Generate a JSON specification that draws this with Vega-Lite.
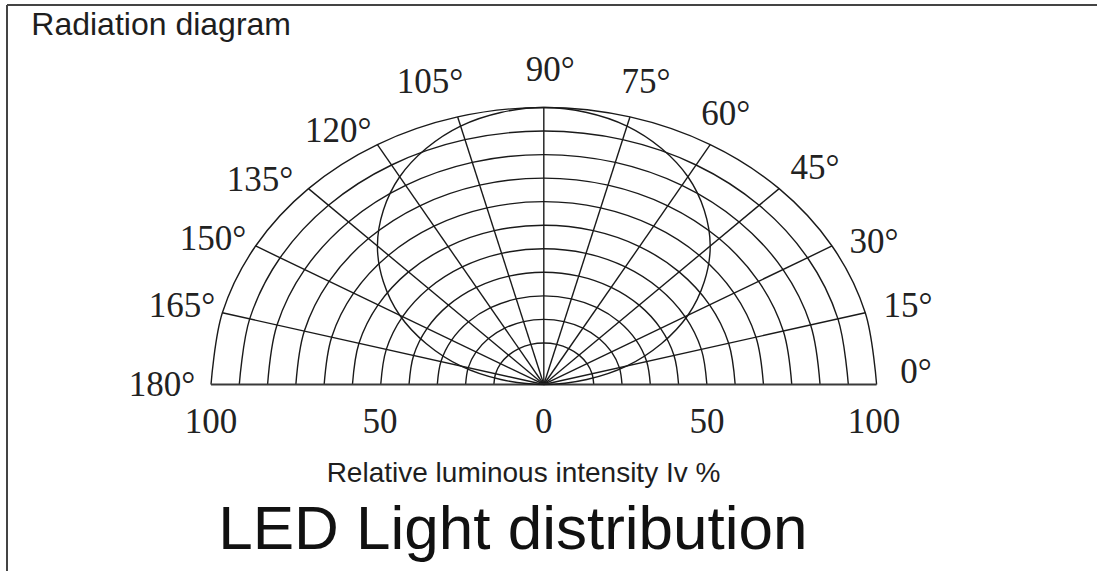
{
  "$schema": "https://vega.github.io/schema/vega-lite/v6.json",
  "width": 1090,
  "height": 566,
  "autosize": {"type": "none"},
  "padding": {"left": 7, "top": 5, "right": 0, "bottom": 0},
  "background": "white",
  "view": {"stroke": null},
  "config": {"view": {"stroke": null}},
  "datasets": {
    "rings": [
      {"r":100,"i":0,"x":100,"y":0},{"r":100,"i":1,"x":96.59,"y":25.88},{"r":100,"i":2,"x":86.6,"y":50},{"r":100,"i":3,"x":70.71,"y":70.71},{"r":100,"i":4,"x":50,"y":86.6},{"r":100,"i":5,"x":25.88,"y":96.59},{"r":100,"i":6,"x":0,"y":100},{"r":100,"i":7,"x":-25.88,"y":96.59},{"r":100,"i":8,"x":-50,"y":86.6},{"r":100,"i":9,"x":-70.71,"y":70.71},{"r":100,"i":10,"x":-86.6,"y":50},{"r":100,"i":11,"x":-96.59,"y":25.88},{"r":100,"i":12,"x":-100,"y":0},
      {"r":91.5,"i":0,"x":91.5,"y":0},{"r":91.5,"i":1,"x":88.38,"y":23.68},{"r":91.5,"i":2,"x":79.24,"y":45.75},{"r":91.5,"i":3,"x":64.7,"y":64.7},{"r":91.5,"i":4,"x":45.75,"y":79.24},{"r":91.5,"i":5,"x":23.68,"y":88.38},{"r":91.5,"i":6,"x":0,"y":91.5},{"r":91.5,"i":7,"x":-23.68,"y":88.38},{"r":91.5,"i":8,"x":-45.75,"y":79.24},{"r":91.5,"i":9,"x":-64.7,"y":64.7},{"r":91.5,"i":10,"x":-79.24,"y":45.75},{"r":91.5,"i":11,"x":-88.38,"y":23.68},{"r":91.5,"i":12,"x":-91.5,"y":0},
      {"r":83,"i":0,"x":83,"y":0},{"r":83,"i":1,"x":80.17,"y":21.48},{"r":83,"i":2,"x":71.88,"y":41.5},{"r":83,"i":3,"x":58.69,"y":58.69},{"r":83,"i":4,"x":41.5,"y":71.88},{"r":83,"i":5,"x":21.48,"y":80.17},{"r":83,"i":6,"x":0,"y":83},{"r":83,"i":7,"x":-21.48,"y":80.17},{"r":83,"i":8,"x":-41.5,"y":71.88},{"r":83,"i":9,"x":-58.69,"y":58.69},{"r":83,"i":10,"x":-71.88,"y":41.5},{"r":83,"i":11,"x":-80.17,"y":21.48},{"r":83,"i":12,"x":-83,"y":0},
      {"r":74.5,"i":0,"x":74.5,"y":0},{"r":74.5,"i":1,"x":71.96,"y":19.28},{"r":74.5,"i":2,"x":64.52,"y":37.25},{"r":74.5,"i":3,"x":52.68,"y":52.68},{"r":74.5,"i":4,"x":37.25,"y":64.52},{"r":74.5,"i":5,"x":19.28,"y":71.96},{"r":74.5,"i":6,"x":0,"y":74.5},{"r":74.5,"i":7,"x":-19.28,"y":71.96},{"r":74.5,"i":8,"x":-37.25,"y":64.52},{"r":74.5,"i":9,"x":-52.68,"y":52.68},{"r":74.5,"i":10,"x":-64.52,"y":37.25},{"r":74.5,"i":11,"x":-71.96,"y":19.28},{"r":74.5,"i":12,"x":-74.5,"y":0},
      {"r":66,"i":0,"x":66,"y":0},{"r":66,"i":1,"x":63.75,"y":17.08},{"r":66,"i":2,"x":57.16,"y":33},{"r":66,"i":3,"x":46.67,"y":46.67},{"r":66,"i":4,"x":33,"y":57.16},{"r":66,"i":5,"x":17.08,"y":63.75},{"r":66,"i":6,"x":0,"y":66},{"r":66,"i":7,"x":-17.08,"y":63.75},{"r":66,"i":8,"x":-33,"y":57.16},{"r":66,"i":9,"x":-46.67,"y":46.67},{"r":66,"i":10,"x":-57.16,"y":33},{"r":66,"i":11,"x":-63.75,"y":17.08},{"r":66,"i":12,"x":-66,"y":0},
      {"r":57.5,"i":0,"x":57.5,"y":0},{"r":57.5,"i":1,"x":55.54,"y":14.88},{"r":57.5,"i":2,"x":49.8,"y":28.75},{"r":57.5,"i":3,"x":40.66,"y":40.66},{"r":57.5,"i":4,"x":28.75,"y":49.8},{"r":57.5,"i":5,"x":14.88,"y":55.54},{"r":57.5,"i":6,"x":0,"y":57.5},{"r":57.5,"i":7,"x":-14.88,"y":55.54},{"r":57.5,"i":8,"x":-28.75,"y":49.8},{"r":57.5,"i":9,"x":-40.66,"y":40.66},{"r":57.5,"i":10,"x":-49.8,"y":28.75},{"r":57.5,"i":11,"x":-55.54,"y":14.88},{"r":57.5,"i":12,"x":-57.5,"y":0},
      {"r":49,"i":0,"x":49,"y":0},{"r":49,"i":1,"x":47.33,"y":12.68},{"r":49,"i":2,"x":42.44,"y":24.5},{"r":49,"i":3,"x":34.65,"y":34.65},{"r":49,"i":4,"x":24.5,"y":42.44},{"r":49,"i":5,"x":12.68,"y":47.33},{"r":49,"i":6,"x":0,"y":49},{"r":49,"i":7,"x":-12.68,"y":47.33},{"r":49,"i":8,"x":-24.5,"y":42.44},{"r":49,"i":9,"x":-34.65,"y":34.65},{"r":49,"i":10,"x":-42.44,"y":24.5},{"r":49,"i":11,"x":-47.33,"y":12.68},{"r":49,"i":12,"x":-49,"y":0},
      {"r":40.5,"i":0,"x":40.5,"y":0},{"r":40.5,"i":1,"x":39.12,"y":10.48},{"r":40.5,"i":2,"x":35.07,"y":20.25},{"r":40.5,"i":3,"x":28.64,"y":28.64},{"r":40.5,"i":4,"x":20.25,"y":35.07},{"r":40.5,"i":5,"x":10.48,"y":39.12},{"r":40.5,"i":6,"x":0,"y":40.5},{"r":40.5,"i":7,"x":-10.48,"y":39.12},{"r":40.5,"i":8,"x":-20.25,"y":35.07},{"r":40.5,"i":9,"x":-28.64,"y":28.64},{"r":40.5,"i":10,"x":-35.07,"y":20.25},{"r":40.5,"i":11,"x":-39.12,"y":10.48},{"r":40.5,"i":12,"x":-40.5,"y":0},
      {"r":32,"i":0,"x":32,"y":0},{"r":32,"i":1,"x":30.91,"y":8.28},{"r":32,"i":2,"x":27.71,"y":16},{"r":32,"i":3,"x":22.63,"y":22.63},{"r":32,"i":4,"x":16,"y":27.71},{"r":32,"i":5,"x":8.28,"y":30.91},{"r":32,"i":6,"x":0,"y":32},{"r":32,"i":7,"x":-8.28,"y":30.91},{"r":32,"i":8,"x":-16,"y":27.71},{"r":32,"i":9,"x":-22.63,"y":22.63},{"r":32,"i":10,"x":-27.71,"y":16},{"r":32,"i":11,"x":-30.91,"y":8.28},{"r":32,"i":12,"x":-32,"y":0},
      {"r":23.5,"i":0,"x":23.5,"y":0},{"r":23.5,"i":1,"x":22.7,"y":6.08},{"r":23.5,"i":2,"x":20.35,"y":11.75},{"r":23.5,"i":3,"x":16.62,"y":16.62},{"r":23.5,"i":4,"x":11.75,"y":20.35},{"r":23.5,"i":5,"x":6.08,"y":22.7},{"r":23.5,"i":6,"x":0,"y":23.5},{"r":23.5,"i":7,"x":-6.08,"y":22.7},{"r":23.5,"i":8,"x":-11.75,"y":20.35},{"r":23.5,"i":9,"x":-16.62,"y":16.62},{"r":23.5,"i":10,"x":-20.35,"y":11.75},{"r":23.5,"i":11,"x":-22.7,"y":6.08},{"r":23.5,"i":12,"x":-23.5,"y":0},
      {"r":15,"i":0,"x":15,"y":0},{"r":15,"i":1,"x":14.49,"y":3.88},{"r":15,"i":2,"x":12.99,"y":7.5},{"r":15,"i":3,"x":10.61,"y":10.61},{"r":15,"i":4,"x":7.5,"y":12.99},{"r":15,"i":5,"x":3.88,"y":14.49},{"r":15,"i":6,"x":0,"y":15},{"r":15,"i":7,"x":-3.88,"y":14.49},{"r":15,"i":8,"x":-7.5,"y":12.99},{"r":15,"i":9,"x":-10.61,"y":10.61},{"r":15,"i":10,"x":-12.99,"y":7.5},{"r":15,"i":11,"x":-14.49,"y":3.88},{"r":15,"i":12,"x":-15,"y":0}
    ],
    "spokes": [
      {"a":15,"x":0,"y":0,"x2":96.59,"y2":25.88},
      {"a":30,"x":0,"y":0,"x2":86.6,"y2":50},
      {"a":45,"x":0,"y":0,"x2":70.71,"y2":70.71},
      {"a":60,"x":0,"y":0,"x2":50,"y2":86.6},
      {"a":75,"x":0,"y":0,"x2":25.88,"y2":96.59},
      {"a":90,"x":0,"y":0,"x2":0,"y2":100},
      {"a":105,"x":0,"y":0,"x2":-25.88,"y2":96.59},
      {"a":120,"x":0,"y":0,"x2":-50,"y2":86.6},
      {"a":135,"x":0,"y":0,"x2":-70.71,"y2":70.71},
      {"a":150,"x":0,"y":0,"x2":-86.6,"y2":50},
      {"a":165,"x":0,"y":0,"x2":-96.59,"y2":25.88}
    ],
    "baseline": [{"x":-100,"y":0,"x2":100,"y2":0}],
    "pattern": [
      {"angle":0,"iv":0,"i":0,"x":0,"y":0},
      {"angle":15,"iv":25.9,"i":1,"x":25,"y":6.7},
      {"angle":30,"iv":50,"i":2,"x":43.3,"y":25},
      {"angle":45,"iv":70.7,"i":3,"x":50,"y":50},
      {"angle":60,"iv":86.6,"i":4,"x":43.3,"y":75},
      {"angle":75,"iv":96.6,"i":5,"x":25,"y":93.3},
      {"angle":90,"iv":100,"i":6,"x":0,"y":100},
      {"angle":105,"iv":96.6,"i":7,"x":-25,"y":93.3},
      {"angle":120,"iv":86.6,"i":8,"x":-43.3,"y":75},
      {"angle":135,"iv":70.7,"i":9,"x":-50,"y":50},
      {"angle":150,"iv":50,"i":10,"x":-43.3,"y":25},
      {"angle":165,"iv":25.9,"i":11,"x":-25,"y":6.7}
    ],
    "angleLabels": [
      {"t":"90°","x":1.9,"y":113.5},
      {"t":"105°","x":-34.2,"y":109.2},
      {"t":"75°","x":30.7,"y":109.2},
      {"t":"120°","x":-61.8,"y":91.5},
      {"t":"60°","x":54.7,"y":97.7},
      {"t":"135°","x":-85.3,"y":73.8},
      {"t":"45°","x":81.5,"y":78.2},
      {"t":"150°","x":-99.4,"y":52.5},
      {"t":"30°","x":99.2,"y":51.4},
      {"t":"165°","x":-108.7,"y":28.3},
      {"t":"15°","x":109.4,"y":28.3},
      {"t":"180°","x":-114.7,"y":-0.2},
      {"t":"0°","x":111.8,"y":4.5}
    ],
    "scaleLabels": [
      {"t":"100","x":-100,"y":-13.4},
      {"t":"50","x":-49.2,"y":-13.4},
      {"t":"0","x":0,"y":-13.4},
      {"t":"50","x":49,"y":-13.4},
      {"t":"100","x":99.2,"y":-13.4}
    ],
    "title": [{"t":"Radiation diagram","x":-154,"y":129.6}],
    "axisTitle": [{"t":"Relative luminous intensity Iv %","x":-6.1,"y":-32.3}],
    "caption": [{"t":"LED Light distribution","x":-9.3,"y":-52.5}],
    "frame": [{"x":-161.3,"y":137.0}]
  },
  "layer": [
    {
      "data": {"name": "frame"},
      "mark": {"type": "rule", "color": "#444444", "strokeWidth": 2},
      "encoding": {
        "x": {"field": "x", "type": "quantitative", "scale": {"domain": [-161.3, 166.22], "zero": false, "nice": false}, "axis": null}
      }
    },
    {
      "data": {"name": "frame"},
      "mark": {"type": "rule", "color": "#444444", "strokeWidth": 2},
      "encoding": {
        "y": {"field": "y", "type": "quantitative", "scale": {"domain": [-67.33, 137.0], "zero": false, "nice": false}, "axis": null}
      }
    },
    {
      "data": {"name": "rings"},
      "mark": {"type": "line", "interpolate": "cardinal", "color": "#1a1a1a", "strokeWidth": 1.4},
      "encoding": {
        "x": {"field": "x", "type": "quantitative", "scale": {"domain": [-161.3, 166.22], "zero": false, "nice": false}, "axis": null},
        "y": {"field": "y", "type": "quantitative", "scale": {"domain": [-67.33, 137.0], "zero": false, "nice": false}, "axis": null},
        "detail": {"field": "r", "type": "nominal"},
        "order": {"field": "i", "type": "quantitative"}
      }
    },
    {
      "data": {"name": "spokes"},
      "mark": {"type": "rule", "color": "#1a1a1a", "strokeWidth": 1.4},
      "encoding": {
        "x": {"field": "x", "type": "quantitative"},
        "y": {"field": "y", "type": "quantitative"},
        "x2": {"field": "x2"},
        "y2": {"field": "y2"}
      }
    },
    {
      "data": {"name": "baseline"},
      "mark": {"type": "rule", "color": "#3a3a3a", "strokeWidth": 2},
      "encoding": {
        "x": {"field": "x", "type": "quantitative"},
        "y": {"field": "y", "type": "quantitative"},
        "x2": {"field": "x2"},
        "y2": {"field": "y2"}
      }
    },
    {
      "data": {"name": "pattern"},
      "mark": {"type": "line", "interpolate": "cardinal-closed", "color": "#1a1a1a", "strokeWidth": 1.4},
      "encoding": {
        "x": {"field": "x", "type": "quantitative"},
        "y": {"field": "y", "type": "quantitative"},
        "order": {"field": "i", "type": "quantitative"}
      }
    },
    {
      "data": {"name": "angleLabels"},
      "mark": {"type": "text", "font": "Liberation Serif", "fontSize": 35, "align": "center", "baseline": "middle", "color": "#222222"},
      "encoding": {
        "x": {"field": "x", "type": "quantitative"},
        "y": {"field": "y", "type": "quantitative"},
        "text": {"field": "t"}
      }
    },
    {
      "data": {"name": "scaleLabels"},
      "mark": {"type": "text", "font": "Liberation Serif", "fontSize": 35, "align": "center", "baseline": "middle", "color": "#222222"},
      "encoding": {
        "x": {"field": "x", "type": "quantitative"},
        "y": {"field": "y", "type": "quantitative"},
        "text": {"field": "t"}
      }
    },
    {
      "data": {"name": "title"},
      "mark": {"type": "text", "font": "Liberation Sans", "fontSize": 32, "align": "left", "baseline": "middle", "color": "#1e1e1e"},
      "encoding": {
        "x": {"field": "x", "type": "quantitative"},
        "y": {"field": "y", "type": "quantitative"},
        "text": {"field": "t"}
      }
    },
    {
      "data": {"name": "axisTitle"},
      "mark": {"type": "text", "font": "Liberation Sans", "fontSize": 28, "align": "center", "baseline": "middle", "color": "#1e1e1e"},
      "encoding": {
        "x": {"field": "x", "type": "quantitative"},
        "y": {"field": "y", "type": "quantitative"},
        "text": {"field": "t"}
      }
    },
    {
      "data": {"name": "caption"},
      "mark": {"type": "text", "font": "Liberation Sans", "fontSize": 62, "align": "center", "baseline": "middle", "color": "#111111"},
      "encoding": {
        "x": {"field": "x", "type": "quantitative"},
        "y": {"field": "y", "type": "quantitative"},
        "text": {"field": "t"}
      }
    }
  ]
}
